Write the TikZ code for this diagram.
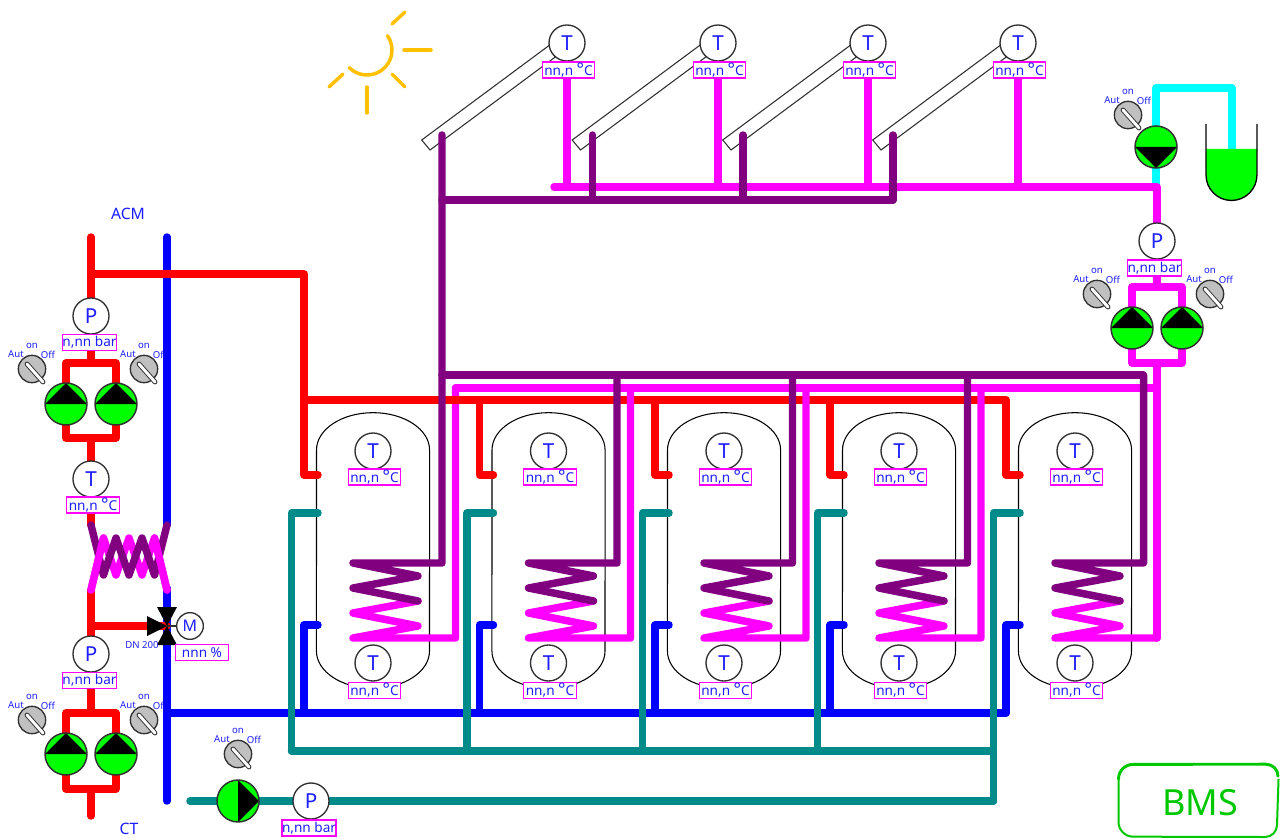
\documentclass[tikz,border=0pt]{standalone}
\usepackage{fontspec}
\setmainfont{Noto Sans}
\usetikzlibrary{calc}
\pgfdeclarelayer{back}
\pgfdeclarelayer{pipes}
\pgfsetlayers{back,pipes,main}
\definecolor{ink}{HTML}{1E1EFF}
\definecolor{pteal}{HTML}{008B8B}
\definecolor{ppurple}{HTML}{800080}
\definecolor{pgreen}{HTML}{00FF00}
\definecolor{pmag}{HTML}{FF00FF}
\definecolor{pcyan}{HTML}{00FFFF}
\definecolor{pred}{HTML}{FF0000}
\definecolor{pblue}{HTML}{0000FF}
\definecolor{sun}{HTML}{FFC000}
\definecolor{bms}{HTML}{00C800}
\definecolor{knobg}{HTML}{C0C0C0}
\definecolor{edge}{HTML}{303030}
\tikzset{
  x=0.75pt,y=-0.75pt,
  pipe/.style={line width=5.6pt,line join=round,line cap=round},
  inst/.style={circle,draw=edge,fill=white,line width=1pt,minimum size=27pt,inner sep=0pt,text=ink,font=\fontsize{15.5}{16}\selectfont},
  tag/.style={rectangle,draw=pmag,fill=white,line width=0.8pt,minimum width=39.5pt,minimum height=12pt,inner sep=0pt,text=ink,font=\fontsize{10.2}{10}\selectfont},
  pumpbase/.style={circle,draw=edge,fill=pgreen,line width=1.1pt,minimum size=31.5pt,inner sep=0pt},
  pumpup/.style={pumpbase,path picture={\fill[black] (path picture bounding box.west)--(path picture bounding box.north)--(path picture bounding box.east)--cycle;}},
  pumpdown/.style={pumpbase,path picture={\fill[black] (path picture bounding box.west)--(path picture bounding box.south)--(path picture bounding box.east)--cycle;}},
  pumpright/.style={pumpbase,path picture={\fill[black] (path picture bounding box.north)--(path picture bounding box.east)--(path picture bounding box.south)--cycle;}},
  tiny/.style={text=ink,inner sep=0pt,font=\fontsize{7.2}{8}\selectfont},
  big/.style={text=ink,inner sep=0pt,font=\fontsize{11.8}{12}\selectfont},
  knob/.style={circle,draw=edge,fill=knobg,line width=1pt,minimum size=20.5pt,inner sep=0pt},
  pics/selector/.style={code={
    \node[knob] (-k) at (0,0) {};
    \draw[edge,line width=3.6pt,line cap=round] (-5,-5) -- (11,13);
    \draw[white,line width=2.2pt,line cap=round] (-5,-5) -- (11,13);
    \node[tiny] (-a) at (-16,-14.5) {Aut};
    \node[tiny] (-o) at (0,-23) {on};
    \node[tiny] (-f) at (16,-14.5) {Off};
  }},
  tankline/.style={draw=black,line width=0.8pt},
  panel/.style={draw=edge,fill=white,line width=0.8pt},
  sunray/.style={sun,line width=2.6pt,line cap=round}
}
\newcommand{\degc}{nn,n {\bfseries\fontsize{13}{10}\selectfont °}C}
\begin{document}
\begin{tikzpicture}
\useasboundingbox (0,0) rectangle (1280,838);

% ---------- instruments and pumps (top layer) ----------
\foreach \n/\cx in {1/567,2/718,3/868,4/1018}{
  \node[inst] (sol\n) at (\cx,43) {T};
  \node[tag] (sol\n t) at ($(\cx,70)+(1.5,0)$) {\degc};
}
\foreach \n/\cx in {1/373,2/548.5,3/724,4/899,5/1075}{
  \node[inst] (top\n) at (\cx,451) {T};
  \node[tag] (top\n t) at ($(\cx,477)+(1.5,0)$) {\degc};
  \node[inst] (bot\n) at (\cx,663) {T};
  \node[tag] (bot\n t) at ($(\cx,690.5)+(1.5,0)$) {\degc};
}
\node[inst] (psolar) at (1157,241) {P};
\node[tag] (psolart) at (1154.5,268) {n,nn bar};
\node[pumpdown] (fill) at (1156,147) {};
\node[pumpup] (sol a) at (1132,328) {};
\node[pumpup] (sol b) at (1182,328) {};

\node[inst] (pacm) at (91,316) {P};
\node[tag] (pacmt) at (89.5,342.5) {n,nn bar};
\node[pumpup] (acm a) at (66,404) {};
\node[pumpup] (acm b) at (116,404) {};
\node[inst] (tacm) at (91,479) {T};
\node[tag] (tacmt) at (93,505) {\degc};

\node[inst] (pct) at (91,654) {P};
\node[tag] (pctt) at (89.5,680.5) {n,nn bar};
\node[pumpup] (ct a) at (66,754) {};
\node[pumpup] (ct b) at (116,754) {};

\node[pumpright] (loop) at (238,801) {};
\node[inst] (ploop) at (311,801) {P};
\node[tag] (ploopt) at (309,828) {n,nn bar};

\coordinate (valve) at (167,626);
\node[inst,minimum size=20pt,font=\fontsize{12}{12}\selectfont] (motor) at (190,626) {M};
\draw[edge,line width=1.2pt] (valve) -- (motor.west);
\fill[black,shift={(valve)}] (0,0) -- (-20,-10) -- (-20,10) -- cycle;
\fill[black,shift={(valve)}] (0,0) -- (-10,-19) -- (10,-19) -- cycle;
\fill[black,shift={(valve)}] (0,0) -- (-10,19) -- (10,19) -- cycle;
\node[tag] (valvet) at (202,652.5) {nnn \%};
\node[tiny] (dn) at (142,645) {DN 200};

\node[big] (acm) at (128,214) {ACM};
\node[big] (ct) at (129,829) {CT};

% expansion vessel
\fill[pgreen] (1206,149) -- (1206,175) arc[start angle=180,end angle=360,radius=19.1pt] -- (1257,149) -- cycle;
\draw[black,line width=1pt] (1206,124) -- (1206,175) arc[start angle=180,end angle=360,radius=19.1pt] -- (1257,124);

% BMS box
\draw[bms,line width=1.5pt,line join=round] (1118.5,779) -- (1118.5,822) arc[start angle=180,end angle=270,radius=11pt] -- (1265,837) arc[start angle=270,end angle=360,radius=9pt] -- (1278.5,779);
\draw[bms,line width=2.2pt,line cap=round] (1118.5,779) arc[start angle=180,end angle=90,radius=11pt] -- (1266,764.2) arc[start angle=90,end angle=0,radius=9pt];
\node[text=bms,inner sep=0pt,font=\fontsize{27}{28}\selectfont] (bmsl) at (1200,803) {BMS};

% ---------- background ----------
\begin{pgfonlayer}{back}
  \fill[white] (0,0) rectangle (1280,838);
  \foreach \n/\cx in {1/373,2/548.5,3/724,4/899,5/1075}{
    \draw[tankline,fill=white] (\cx-56.5,450) arc[start angle=180,end angle=0,x radius=42.4pt,y radius=28pt]
      -- (\cx+56.5,651) arc[start angle=0,end angle=-180,x radius=42.4pt,y radius=28pt] -- cycle;
  }
  \foreach \d in {0,150.5,301,451}{
    \draw[panel] (421.7+\d,140) -- (430+\d,150) -- (560+\d,53.5) -- (551.7+\d,43.5) -- cycle;
  }
  \pic (swf) at (1128,115) {selector};
  \pic (swsa) at (1097,294) {selector};
  \pic (swsb) at (1210,294) {selector};
  \pic (swaa) at (32,369) {selector};
  \pic (swab) at (144,369) {selector};
  \pic (swca) at (32,720) {selector};
  \pic (swcb) at (144,720) {selector};
  \pic (swl) at (238,754) {selector};
  % sun
  \draw[sunray] ([shift={(35:18.75pt)}]367,50) arc[start angle=35,end angle=-135,radius=18.75pt];
  \draw[sunray] (392,24) -- (405,12);
  \draw[sunray] (404,50) -- (431,50);
  \draw[sunray] (392,74) -- (405,87);
  \draw[sunray] (367,87) -- (367,113);
  \draw[sunray] (343,74) -- (329,87);
\end{pgfonlayer}

% ---------- pipes ----------
\begin{pgfonlayer}{pipes}
  % cyan fill line
  \draw[pipe,pcyan] (1156,187) -- (fill) -- (1156,88) -- (1232,88) -- (1232,150);
  % blue
  \draw[pipe,pblue] (167,237) -- (167,525);
  \draw[pipe,pblue] (167,588) -- (167,801);
  \draw[pipe,pblue] (167,713) -- (1006,713);
  \foreach \cx in {373,548.5,724,899,1075}{
    \draw[pipe,pblue] (\cx-69,713) -- (\cx-69,625) -- (\cx-55,625);
  }
  % teal
  \draw[pipe,pteal] (loop) -- (ploop) -- (993.5,801);
  \draw[pipe,pteal] (190,801) -- (loop);
  \draw[pipe,pteal] (291.5,751) -- (993.5,751);
  \foreach \cx in {373,548.5,724,899}{
    \draw[pipe,pteal] (\cx-81.5,751) -- (\cx-81.5,513) -- (\cx-55,513);
  }
  \draw[pipe,pteal] (993.5,801) -- (993.5,513) -- (1020,513);
  % first magenta coil return lies under the red main
  \draw[pipe,pmag] (455.5,388) -- (455.5,638) -- (353,638) -- (418,626) -- (353,613) -- (418,601);
  % red
  \draw[pipe,pred] (91,237) -- (pacm);
  \draw[pipe,pred] (91,274) -- (304,274) -- (304,475) -- (318,475);
  \draw[pipe,pred] (304,400) -- (1006,400);
  \foreach \cx in {548.5,724,899,1075}{
    \draw[pipe,pred] (\cx-69,400) -- (\cx-69,475) -- (\cx-55,475);
  }
  \draw[pipe,pred] (pacm) -- (91,363);
  \draw[pipe,pred] (66,404) -- (66,363) -- (116,363) -- (116,438) -- (66,438) -- cycle;
  \draw[pipe,pred] (91,438) -- (tacm) -- (91,525);
  \draw[pipe,pred] (91,590) -- (pct);
  \draw[pipe,pred] (91,626) -- (valve);
  \draw[pipe,pred] (pct) -- (91,713);
  \draw[pipe,pred] (66,754) -- (66,713) -- (116,713) -- (116,789) -- (66,789) -- cycle;
  \draw[pipe,pred] (91,789) -- (91,816);
  % magenta
  \draw[pipe,pmag] (sol1) -- (567,187);
  \draw[pipe,pmag] (sol2) -- (718,187);
  \draw[pipe,pmag] (sol3) -- (868,187);
  \draw[pipe,pmag] (sol4) -- (1018,187);
  \draw[pipe,pmag] (554,187) -- (1157,187) -- (psolar);
  \draw[pipe,pmag] (psolar) -- (1157,287);
  \draw[pipe,pmag] (1132,328) -- (1132,287) -- (1182,287) -- (1182,363) -- (1132,363) -- cycle;
  \draw[pipe,pmag] (1157,363) -- (1157,638);
  \draw[pipe,pmag] (455.5,388) -- (1157,388);
  \foreach \cx in {548.5,724,899,1075}{
    \draw[pipe,pmag] (\cx+82,388) -- (\cx+82,638) -- (\cx-20,638) -- (\cx+45,626) -- (\cx-20,613) -- (\cx+45,601);
  }
  % purple
  \draw[pipe,ppurple] (442,135) -- (442,563) -- (353,563) -- (418,576) -- (353,588) -- (418,601);
  \draw[pipe,ppurple] (442,200) -- (893,200);
  \foreach \d in {150.5,301,451}{
    \draw[pipe,ppurple] (442+\d,135) -- (442+\d,200);
  }
  \draw[pipe,ppurple] (442,375) -- (1143,375);
  \foreach \cx in {548.5,724,899,1075}{
    \draw[pipe,ppurple] (\cx+68.5,375) -- (\cx+68.5,563) -- (\cx-20,563) -- (\cx+45,576) -- (\cx-20,588) -- (\cx+45,601);
  }
  % heat exchanger
  \draw[pipe,pmag] (91,590) -- (103.5,538) -- (116,575) -- (129,538) -- (142,575) -- (154.5,538) -- (167,590);
  \draw[pipe,ppurple] (91,525) -- (103.5,575) -- (116,538) -- (129,575) -- (142,538) -- (154.5,575) -- (167,525);
  \draw[pipe,pmag] (91,590) -- (103.5,538);
  \draw[pipe,pmag] (154.5,538) -- (167,590);
\end{pgfonlayer}
\end{tikzpicture}
\end{document}
